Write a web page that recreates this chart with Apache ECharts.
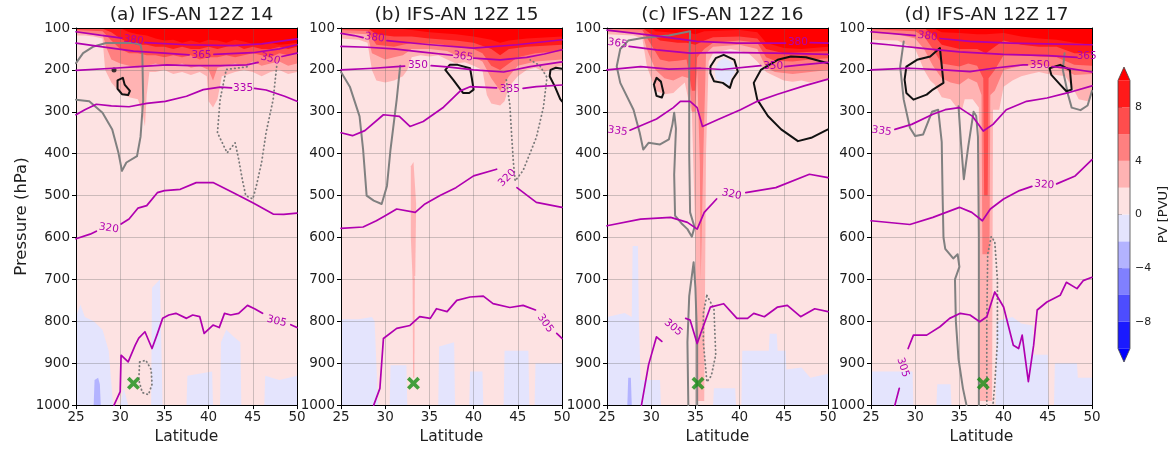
<!DOCTYPE html>
<html><head><meta charset="utf-8">
<script src="https://cdn.jsdelivr.net/npm/echarts@6/dist/echarts.min.js"></script>
<style>html,body{margin:0;padding:0;background:#fff}#c{width:1171px;height:450px}</style>
</head><body><div id="c"></div>
<script>
// ---------- general ----------
const panelTitles = ['(a) IFS-AN 12Z 14','(b) IFS-AN 12Z 15','(c) IFS-AN 12Z 16','(d) IFS-AN 12Z 17'];
const pvLevels = [-10,-8,-6,-4,-2,0,2,4,6,8,10];
const pvColors = ['#1a1aff','#4d4dff','#8080ff','#b3b3ff','#e4e4fd','#fde2e2','#ffb3b3','#ff8080','#ff4d4d','#ff1a1a'];
const pvUnder = '#0000ff', pvOver = '#ff0000';
const cbTicks = [-8,-4,0,4,8];

// ---------- panel (a) ----------
const a_pv2 = [[25,118],[26,118],[27,120],[28,125],[28.3,200],[29,230],[30,255],[31,265],[32,270],[32.5,300],[32.8,335],[33,260],[33.3,205],[34,205],[35,200],[36,210],[37,205],[38,212],[39,205],[39.8,215],[40,275],[40.5,290],[41,270],[41.5,215],[42,212],[43,205],[44,200],[45,205],[46,215],[47,205],[48,200],[49,210],[50,205]];
const a_pv4 = [[25,112],[28,115],[28.5,150],[29,175],[30,185],[31,190],[32,195],[33,190],[34,185],[35,190],[36,190],[37,185],[38,195],[39,190],[40,200],[40.5,225],[41,195],[42,190],[43,185],[44,190],[45,180],[46,190],[47,185],[48,180],[49,190],[50,185]];
const a_pv6 = [[25,105],[28,108],[29,130],[30,150],[31,160],[32,160],[33,165],[34,165],[35,170],[36,165],[37,170],[38,165],[39,175],[40,170],[41,170],[42,165],[43,170],[44,165],[45,160],[46,165],[47,170],[48,160],[49,165],[50,160]];
const a_pv8 = [[25,100],[28,102],[29,110],[30,125],[31,135],[32,140],[33,140],[34,145],[35,145],[36,150],[37,145],[38,150],[39,150],[40,145],[41,150],[42,145],[43,140],[44,150],[45,145],[46,150],[47,150],[48,145],[49,150],[50,145]];
const a_pv10 = [[25,100],[30,100],[31,110],[32,115],[33,118],[34,125],[35,130],[36,128],[37,135],[38,130],[39,135],[40,128],[41,130],[42,135],[43,128],[44,132],[45,138],[46,140],[47,135],[48,140],[49,138],[50,135]];
const a_neg0 = [[25,1000],[25,790],[25.5,760],[26,790],[27,800],[28,820],[28.7,870],[29.2,1000],[30,1000],[30.4,960],[30.9,1000],[33.5,1000],[33.6,720],[34.5,700],[34.8,1000],[37.5,1000],[37.6,930],[40.4,920],[40.5,1000],[41.3,1000],[41.4,850],[42,820],[43,840],[43.6,850],[43.7,1000],[46.3,1000],[46.4,930],[48,940],[50,930]];
const a_neg2 = [[25,1000],[27,1000],[27.1,940],[27.5,935],[27.7,950],[27.8,1000],[50,1000]];
const a_th380 = [[[25,109],[27.7,117],[30.2,124]],[[32.8,135],[37.5,140],[42.8,142],[46,138],[50,126]]];
const a_th365 = [[[25,136],[28,145],[31.5,155],[35,160],[37.8,164]],[[40.6,163],[45,159],[48,150],[50,140]]];
const a_th350 = [[[25,201],[29.2,196],[32,192],[35.3,188],[38,190],[41.3,190],[44.3,188],[45.6,182]],[[48.3,168],[50,160]]];
const a_th335 = [[[25,307],[26,295],[27.3,282],[29,286],[31,288],[33,280],[35.1,275],[37.5,263],[39.4,247],[41.3,241],[42.6,243]],[[45.2,244],[46.5,248],[48.6,263],[50,275]]];
const a_th320 = [[[25,603],[26.6,592],[27.3,585]],[[30.1,568],[31,556],[32,530],[33,524],[34.2,493],[35,488],[36.8,485],[38.6,469],[40.5,469],[42.8,493],[45,517],[47.3,544],[48.5,545],[50,542]]];
const a_th305 = [[[29.3,1000],[30,968],[30.1,881],[30.9,897],[31.7,857],[32.1,840],[32.8,825],[33.6,865],[34.2,830],[34.8,793],[35.5,785],[36.3,781],[37.5,793],[38.2,785],[39,789],[39.5,829],[40.5,809],[41.2,815],[41.8,781],[42.5,785],[43.4,781],[44.4,762],[45.2,770],[46.1,781]],[[49.3,808],[50,815]]];
const a_labels = [[31.5,129,'380',-8],[39.2,164,'365',0],[47,174,'350',-14],[43.9,245,'335',0],[28.7,578,'320',-8],[47.7,800,'305',-14]];
const a_grey = [[[25,184],[25.8,160],[27,144],[28.4,136],[31.5,136],[32.3,140],[32.5,160],[32.6,271],[32.3,360],[31.9,406],[30.7,421],[30.2,441],[29.8,398],[29.1,342],[28,302],[26.5,275],[25,271]]];
const a_dotted = [[[47.7,192],[47.3,271],[46.5,350],[46,420],[45.4,477],[45,508],[44.2,500],[43.8,460],[43.4,413],[43,374],[42.1,398],[41,350],[41.3,271],[42,199],[43.5,195],[44.5,192]],
                  [[32.2,897],[32.9,893],[33.5,915],[33.6,950],[33.2,975],[32.5,970],[32.1,940],[32.2,897]]];
const a_black = [[[29.7,225],[30.3,219],[30.5,235],[31.1,250],[30.9,260],[30.2,258],[29.7,245],[29.7,225]]];
const a_dots = [[29.3,200]];
const a_marker = [[31.5,948]];

// ---------- panel (b) ----------
const b_pv2 = [[25,125],[27,128],[28,135],[28.5,200],[29,225],[30,230],[31,225],[32,215],[32.5,200],[33,170],[34,165],[35,168],[36,165],[37,175],[38,185],[39,182],[40,190],[41,200],[41.5,260],[42,280],[43,285],[43.5,275],[44,240],[45,215],[46,200],[47,195],[48,205],[49,195],[50,190]];
const b_pv4 = [[25,112],[28,115],[28.5,160],[30,175],[31,170],[32,165],[33,150],[35,150],[37,155],[38,165],[40,170],[41,180],[42,220],[43,250],[44,215],[45,190],[47,180],[50,175]];
const b_pv6 = [[25,105],[28,107],[29,140],[31,145],[32,140],[33,135],[36,138],[38,145],[40,150],[41,160],[42,190],[43,200],[44,185],[45,170],[47,160],[50,155]];
const b_pv8 = [[25,100],[28,100],[29,115],[31,120],[33,120],[35,125],[38,130],[40,135],[42,150],[43,165],[44,150],[46,145],[50,140]];
const b_pv10 = [[25,100],[31,100],[33,105],[35,110],[38,115],[40,120],[42,128],[43,135],[44,130],[46,125],[50,120]];
const b_streak = [[32.9,430],[33.2,420],[33.5,520],[33.4,690],[33.1,700],[32.9,600],[32.9,430]];
const b_streakLow = [[33.1,695],[33.35,695],[33.3,935],[33.15,935],[33.1,695]];
const b_neg0 = [[25,1000],[25,795],[27,795],[28.5,790],[28.8,800],[29.2,1000],[30.5,1000],[30.6,905],[32.4,905],[32.5,1000],[36,1000],[36.1,860],[37.8,850],[37.9,1000],[39.5,1000],[39.6,920],[41,920],[41.1,1000],[43.4,1000],[43.5,870],[46.2,870],[46.3,1000],[46.9,1000],[47,900],[50,900]];
const b_th380 = [[[25,113],[26.5,118],[27.5,123]],[[30.2,130],[35.1,140],[40,148],[44.9,140],[50,128]]];
const b_th365 = [[[25,144],[28,146],[31,150],[34,157],[37.6,165]],[[40,172],[43,176],[46,170],[48,162],[50,152]]];
const b_th350 = [[[25,200],[28.7,196],[31.3,192],[32.2,191]],[[35.2,190],[37,193],[40,200],[43.4,205],[46.4,192],[50,181]]];
const b_th335 = [[[25,350],[26.3,357],[27.7,345],[29.8,307],[31.6,311],[32.8,335],[34.3,323],[36.6,289],[38.5,250],[39.6,240],[42.6,243]],[[45.6,244],[47.1,240],[50,236]]];
const b_th320 = [[[25,578],[27.5,575],[29,560],[30,548],[31.3,532],[33.4,540],[34.5,520],[36.2,500],[38,481],[40,453],[42.6,437]],[[44.9,481],[47.1,516],[50,528]]];
const b_th305 = [[[28.7,1000],[29.4,960],[29.8,841],[31.3,817],[32.8,810],[33.9,789],[35.1,793],[35.8,770],[37,777],[38.1,750],[39.6,742],[41.1,740],[42.2,758],[44.1,767],[45.6,762],[47,773]],[[49.4,829],[50,841]]];
const b_labels = [[28.8,123,'380',-8],[38.8,168,'365',-8],[33.7,189,'350',0],[44.1,247,'335',0],[43.8,458,'320',45],[48.1,805,'305',-55]];
const b_grey = [[[25,205],[26,240],[27.1,311],[27.5,390],[27.9,500],[28.7,512],[29.6,520],[30.2,477],[30.6,390],[31.3,271],[31.7,190]]];
const b_dotted = [[[43.7,224],[44.1,283],[44.3,354],[44.5,420],[44.7,465],[45.6,440],[47.1,361],[47.9,289],[48.3,218],[47.5,190],[46.4,176]]];
const b_black = [[[36.8,200],[37.3,188],[38.2,188],[39.6,196],[39.8,220],[40,247],[39.5,255],[38.8,255],[37.7,224],[36.8,200]],
                 [[50,197],[49.3,195],[48.7,200],[48.6,215],[49.2,240],[49.8,270],[50,275]]];
const b_marker = [[33.2,948]];

// ---------- panel (c) ----------
const c_pv2 = [[25,115],[28,118],[29,125],[29.5,190],[30.5,250],[31.5,258],[32.5,255],[33,245],[33.8,230],[34.3,280],[34.6,300],[35,600],[35.1,990],[36,990],[36.2,400],[36.5,180],[37,160],[38,155],[39,150],[40,155],[41,160],[42,180],[43,205],[44,215],[45,225],[46,228],[47,225],[48,230],[49,225],[50,225]];
const c_pv4 = [[25,108],[29,112],[29.5,150],[30.5,200],[31.5,220],[32.5,225],[33.5,215],[34.3,220],[34.6,300],[35,300],[35.2,200],[35.5,420],[35.6,700],[35.8,700],[35.9,400],[36.2,160],[37,145],[40,140],[42,150],[43,195],[44,205],[46,210],[48,205],[50,200]];
const c_pv6 = [[25,102],[29,105],[30,140],[31,175],[32,180],[33,178],[34,175],[34.6,250],[35,250],[35.2,170],[36,150],[37,135],[40,130],[42,135],[43,170],[44,178],[46,180],[48,175],[50,172]];
const c_pv8 = [[25,100],[29,100],[30,115],[31,130],[33,135],[34,135],[35,140],[36,130],[37,122],[40,120],[42,125],[43,150],[45,160],[47,158],[50,155]];
const c_pv10 = [[25,100],[30,100],[30.5,108],[33,112],[34,110],[35,115],[36,108],[40,105],[42,110],[43,135],[45,148],[47,150],[50,145]];
const c_blueLoop = [[37.2,200],[37.6,180],[38.3,172],[39.2,182],[39.5,205],[39,222],[38.8,238],[38.2,228],[37.3,222],[37.2,200]];
const c_neg0 = [[25,1000],[25,790],[27,780],[27.8,790],[27.9,620],[28.5,620],[28.6,790],[28.8,940],[31,940],[31.1,1000],[37,1000],[37.1,960],[39.5,960],[39.6,1000],[40.2,1000],[40.3,870],[43.3,870],[43.4,830],[44.2,830],[44.3,870],[45.2,870],[45.3,915],[47,910],[48,935],[50,925]];
const c_neg2 = [[25,1000],[27.3,1000],[27.4,935],[27.7,935],[27.8,1000],[50,1000]];
const c_th380 = [[[25,105],[29.9,117],[35.2,132],[39.7,136],[45.2,136]],[[48,135],[50,136]]];
const c_th365 = [[[27.5,144],[30.6,152],[34.4,160],[38.2,158],[44,160],[50,163]]];
const c_th350 = [[[25,200],[28.8,192],[32,198],[35.6,196],[38,199],[42.4,190]],[[45.1,192],[47,188],[50,182]]];
const c_th335 = [[[27.6,344],[30.6,317],[32.5,290],[33.3,275],[34.4,275],[35.2,290],[35.8,335],[37.5,319],[40.1,295],[42,275],[44.3,258],[47.3,238],[50,222]]];
const c_th320 = [[[25,572],[28.8,556],[32.2,552],[34.1,564],[35.2,580],[36,540],[37.4,508]],[[40.7,493],[44.1,481],[47.9,449],[50,457]]];
const c_th305 = [[[28.9,1000],[29.7,904],[30.6,837],[31.2,848]],[[33.9,793],[34.4,797],[35.2,853],[35.8,817],[36.7,766],[38.2,758],[39.7,793],[40.9,793],[41.6,781],[42.8,789],[44.3,766],[45.4,762],[46.9,789],[48.5,770],[50,777]]];
const c_labels = [[46.6,134,'380',0],[26.2,137,'365',-8],[43.8,192,'350',0],[26.2,346,'335',-8],[39.1,497,'320',-12],[32.5,815,'305',-40]];
const c_grey = [[[34.4,108],[32,118],[29,124],[27.4,130],[26.5,150],[26.1,192],[26.5,231],[28,295],[28.7,350],[29.1,390],[29.7,374],[31,378],[32,366],[32.4,330],[32.6,302],[32.8,340],[32.6,450],[32.7,548],[33.5,568],[34.1,580],[34.6,598],[34.9,575],[34.4,540],[34.3,400],[34.3,200],[34.4,108]],
                [[34.2,1000],[34.1,850],[34.3,740],[34.8,659],[35,720],[35.2,850],[35.2,1000]]];
const c_dotted = [[[36.3,738],[37.1,770],[37.3,880],[36.8,930],[36.3,945],[35.9,850],[35.9,780],[36.3,738]]];
const c_black = [[[30.3,235],[30.6,219],[31.1,228],[31.4,255],[31.2,266],[30.6,262],[30.3,235]],
                 [[36.7,192],[37.3,172],[38.2,164],[39.4,176],[39.8,204],[39.2,223],[38.9,243],[38.1,231],[37.1,227],[36.7,208],[36.7,192]],
                 [[50,184],[47.5,170],[45.8,168],[44.3,176],[42.4,200],[41.6,231],[42,271],[43.2,310],[44.7,342],[46.6,370],[48.1,362],[49.6,346],[50,342]]];
const c_marker = [[35.3,948]];

// ---------- panel (d) ----------
const d_pv2 = [[25,128],[28,130],[29,140],[30,150],[31,200],[31.7,225],[32.2,235],[33,265],[34,270],[34.7,290],[35.3,295],[35.6,270],[36.5,270],[37.2,290],[37.3,990],[38.7,990],[38.8,295],[39.5,295],[40,240],[41,225],[42,215],[43,210],[44,205],[45,210],[46,212],[47,215],[48,250],[48.5,270],[49.5,275],[50,260]];
const d_pv4 = [[25,112],[28,115],[30,125],[31,150],[32,190],[33,220],[34,230],[35,235],[36,220],[37,230],[37.5,260],[37.6,640],[38.4,640],[38.5,260],[39,250],[40,200],[42,190],[44,188],[46,195],[47,200],[48,212],[50,210]];
const d_pv6 = [[25,103],[30,108],[31,120],[32,150],[33,185],[35,192],[36,185],[37,190],[37.7,220],[37.8,500],[38.2,500],[38.3,220],[39,200],[40,165],[42,165],[44,168],[46,170],[48,188],[50,190]];
const d_pv8 = [[25,100],[31,100],[32,115],[33,140],[35,150],[37,150],[38,160],[39,145],[40,130],[42,140],[44,145],[46,145],[48,160],[50,160]];
const d_pv10 = [[25,100],[32,100],[33,110],[35,112],[37,115],[38,115],[40,112],[42,120],[44,125],[46,128],[48,135],[50,140]];
const d_neg0 = [[25,1000],[25,920],[29.7,920],[29.8,1000],[32.4,1000],[32.5,950],[34,950],[34.1,1000],[39.1,1000],[39.2,800],[41,790],[42,805],[43.3,810],[43.4,880],[45,880],[45.1,1000],[45.7,1000],[45.8,900],[48.3,900],[48.4,935],[50,935]];
const d_th380 = [[[25,109],[29.4,117],[30,118]],[[32.8,125],[36.2,132],[40.7,136],[44.9,138],[50,140]]];
const d_th365 = [[[25,136],[27,140],[31.4,150],[35,157],[40,163],[45,166],[48.3,170]]];
const d_th350 = [[[25,200],[29.4,196],[33.2,200],[36.2,204],[38.8,196],[42.2,188],[42.7,188]],[[45.5,192],[47,195],[50,205]]];
const d_th335 = [[[27.7,342],[29.6,330],[32,306],[33.4,295],[35,290],[36.5,311],[37.7,346],[38.8,330],[40.3,295],[42.6,275],[44.9,267],[47.2,255],[50,238]]];
const d_th320 = [[[25,560],[29.4,569],[32,552],[35,528],[36.4,540],[37.6,560],[38.5,532],[40,508],[41.8,488],[43.2,478]],[[46,472],[48.1,453],[50,414]]];
const d_th305 = [[[27.7,1000],[28.2,960]],[[29.2,865],[29.8,833],[31.3,833],[32.8,813],[33.9,793],[35.1,781],[36.2,785],[37.3,801],[38.1,789],[39,730],[40,766],[41.1,857],[41.7,865],[42.1,833],[42.8,944],[43.4,857],[43.8,773],[44.9,754],[46.4,738],[47.1,707],[48.3,722],[49,703],[50,695]]];
const d_labels = [[31.4,120,'380',-8],[49.4,168,'365',0],[44.1,190,'350',0],[26.2,346,'335',-8],[44.6,474,'320',-5],[28.6,910,'305',-72]];
const d_grey = [[[28.7,132],[28.3,192],[28.7,271],[29.4,338],[30,358],[30.9,354],[31.9,300],[32.6,295],[33,372],[33.1,500],[33.2,600],[33.4,627],[34.3,650],[34.8,640],[35,670],[34.5,700],[34.6,800],[34.9,890],[35.4,960],[35.8,1000]],
                [[34.9,287],[35.2,380],[35.5,461],[36,383],[36.6,300],[36.9,310],[37.1,360],[37.2,600],[37.2,1000]],
                [[46.9,160],[46.7,200],[47.3,260],[47.7,290],[48.7,296],[49.5,285],[50,250]]];
const d_dotted = [[[38.1,1000],[38.1,800],[38.2,640],[38.6,598],[39,610],[39.3,700],[39.3,850],[39,950],[38.8,1000]]];
const d_black = [[[29,192],[30.2,176],[31.7,168],[32.8,148],[33.2,231],[32,247],[31.3,259],[29.8,271],[29,255],[28.8,223],[29,192]],
                 [[45.2,196],[46.4,188],[47.5,200],[47.7,247],[47.1,251],[46.4,235],[45.4,212],[45.2,196]]];
const d_marker = [[37.7,948]];

// ---------- assemble ----------
const panels = [
  {pv:[a_pv2,a_pv4,a_pv6,a_pv8,a_pv10], neg:[a_neg0,a_neg2], blobs:[], th:[a_th380,a_th365,a_th350,a_th335,a_th320,a_th305], labels:a_labels, grey:a_grey, dotted:a_dotted, black:a_black, dots:a_dots, marker:a_marker},
  {pv:[b_pv2,b_pv4,b_pv6,b_pv8,b_pv10], neg:[b_neg0], blobs:[{pts:b_streak,c:6},{pts:b_streakLow,c:6}], th:[b_th380,b_th365,b_th350,b_th335,b_th320,b_th305], labels:b_labels, grey:b_grey, dotted:b_dotted, black:b_black, dots:[], marker:b_marker},
  {pv:[c_pv2,c_pv4,c_pv6,c_pv8,c_pv10], neg:[c_neg0,c_neg2], blobs:[{pts:c_blueLoop,c:4}], th:[c_th380,c_th365,c_th350,c_th335,c_th320,c_th305], labels:c_labels, grey:c_grey, dotted:c_dotted, black:c_black, dots:[], marker:c_marker},
  {pv:[d_pv2,d_pv4,d_pv6,d_pv8,d_pv10], neg:[d_neg0], blobs:[], th:[d_th380,d_th365,d_th350,d_th335,d_th320,d_th305], labels:d_labels, grey:d_grey, dotted:d_dotted, black:d_black, dots:[], marker:d_marker}
];

const FONT = 'DejaVu Sans';
const TXT = '#1e1e1e';
const PURPLE = '#b000b0';
const gridLefts = [76, 341, 607, 871];
const GT = 28, GW = 221, GH = 379;

const grids = [], xAxes = [], yAxes = [], series = [], titles = [];
const pvFillColors = [pvColors[6], pvColors[7], pvColors[8], pvColors[9], pvOver];
const negFillColors = [pvColors[4], pvColors[3]];
const XPATH = 'path://M2,0 L5,3 L8,0 L10,2 L7,5 L10,8 L8,10 L5,7 L2,10 L0,8 L3,5 L0,2 Z';

function line(i, pts, color, width, type, z) {
  return {type:'line', xAxisIndex:2*i, yAxisIndex:2*i, data:pts, symbol:'none', silent:true, animation:false, z:z,
    lineStyle:{color:color, width:width, type:type||'solid', cap:'round', join:'round'}};
}
function area(i, pts, color, origin, z) {
  return {type:'line', xAxisIndex:2*i, yAxisIndex:2*i, data:pts, symbol:'none', silent:true, animation:false, z:z,
    lineStyle:{width:0, opacity:0}, areaStyle:{color:color, opacity:1, origin:origin}};
}

panels.forEach((P, i) => {
  const L = gridLefts[i];
  grids.push({left:L, top:GT, width:GW, height:GH, show:true, backgroundColor:pvColors[5], borderWidth:0});
  titles.push({text:panelTitles[i], left:L + GW/2, top:1, textAlign:'center',
    textStyle:{fontFamily:FONT, fontSize:18.5, fontWeight:'normal', color:TXT}});
  xAxes.push({type:'value', gridIndex:i, min:25, max:50, interval:5, position:'bottom', z:5,
    axisLine:{show:true, onZero:false, lineStyle:{color:'#000', width:1}},
    axisTick:{show:true, length:4, lineStyle:{color:'#000'}},
    axisLabel:{fontFamily:FONT, fontSize:13.5, color:TXT, margin:5},
    splitLine:{show:true, lineStyle:{color:'rgba(100,100,100,0.4)', width:0.8}},
    name:'Latitude', nameLocation:'middle', nameGap:22, nameTextStyle:{fontFamily:FONT, fontSize:15.5, color:TXT}});
  xAxes.push({type:'value', gridIndex:i, min:25, max:50, position:'top', z:6,
    axisLine:{show:true, onZero:false, lineStyle:{color:'#000', width:1}},
    axisTick:{show:false}, axisLabel:{show:false}, splitLine:{show:false}});
  yAxes.push({type:'value', gridIndex:i, min:100, max:1000, interval:100, inverse:true, position:'left', z:5,
    axisLine:{show:true, onZero:false, lineStyle:{color:'#000', width:1}},
    axisTick:{show:true, length:4, lineStyle:{color:'#000'}},
    axisLabel:{fontFamily:FONT, fontSize:13.5, color:TXT, margin:6, formatter: v => String(v)},
    splitLine:{show:true, lineStyle:{color:'rgba(100,100,100,0.4)', width:0.8}},
    name: i === 0 ? 'Pressure (hPa)' : '', nameLocation:'middle', nameGap:46, nameRotate:90,
    nameTextStyle:{fontFamily:FONT, fontSize:16.5, color:TXT}});
  yAxes.push({type:'value', gridIndex:i, min:100, max:1000, inverse:true, position:'right', z:6,
    axisLine:{show:true, onZero:false, lineStyle:{color:'#000', width:1}},
    axisTick:{show:false}, axisLabel:{show:false}, splitLine:{show:false}});

  // filled PV (upper bands from top, negative from bottom)
  P.pv.forEach((pts, k) => series.push(area(i, pts, pvFillColors[k], 'start', 1)));
  P.neg.forEach((pts, k) => series.push(area(i, pts, negFillColors[k], 'end', 1)));
  if (P.blobs.length) {
    const blobs = P.blobs;
    series.push({type:'custom', xAxisIndex:2*i, yAxisIndex:2*i, z:1, silent:true, animation:false,
      data: blobs.map(b => [b.pts[0][0], b.pts[0][1]]),
      renderItem: (params, api) => {
        const b = blobs[params.dataIndex];
        return {type:'polygon', shape:{points:b.pts.map(q => api.coord(q))}, style:{fill:pvColors[b.c]}};
      }});
  }
  // isentropes
  P.th.forEach(segs => segs.forEach(seg => series.push(line(i, seg, PURPLE, 1.7, 'solid', 8))));
  const labs = P.labels;
  series.push({type:'custom', xAxisIndex:2*i, yAxisIndex:2*i, z:9, silent:true, animation:false,
    data: labs.map(d => [d[0], d[1]]),
    renderItem: (params, api) => {
      const d = labs[params.dataIndex];
      const pt = api.coord([d[0], d[1]]);
      return {type:'text', x:pt[0], y:pt[1], rotation:d[3]*Math.PI/180,
        style:{text:d[2], fill:PURPLE, font:'10.5px "DejaVu Sans"', align:'center', verticalAlign:'middle'}};
    }});
  P.grey.forEach(seg => series.push(line(i, seg, '#808080', 2, 'solid', 7)));
  P.dotted.forEach(seg => series.push(line(i, seg, '#7a7a7a', 1.8, [0.5, 3.5], 7)));
  P.black.forEach(seg => series.push(line(i, seg, '#111', 2, 'solid', 7)));
  if (P.dots.length) series.push({type:'scatter', xAxisIndex:2*i, yAxisIndex:2*i, data:P.dots, symbol:'circle', symbolSize:5, itemStyle:{color:'#111'}, silent:true, z:7});
  series.push({type:'scatter', xAxisIndex:2*i, yAxisIndex:2*i, data:P.marker, symbol:XPATH, symbolSize:13, itemStyle:{color:'#148f14'}, silent:true, z:10, animation:false});
});

// ---------- colour bar ----------
grids.push({left:1118, top:67, width:15, height:295, show:false});
xAxes.push({type:'value', gridIndex:4, min:0, max:1, show:false});
yAxes.push({type:'value', gridIndex:4, min:-11, max:11, position:'right',
  axisLine:{show:false}, splitLine:{show:false},
  axisTick:{show:true, customValues:cbTicks, length:4, lineStyle:{color:'#333'}},
  axisLabel:{show:true, customValues:cbTicks, fontFamily:FONT, fontSize:11, color:TXT, margin:5,
    formatter: v => v < 0 ? '\u2212' + Math.abs(v) : String(v)},
  name:'PV [PVU]', nameLocation:'middle', nameGap:27, nameRotate:90,
  nameTextStyle:{fontFamily:FONT, fontSize:13, color:TXT}});
const cbItems = [];
for (let k = 0; k < pvLevels.length - 1; k++) cbItems.push([0.5, pvLevels[k], pvLevels[k+1], k]);
cbItems.push([0.5, 10, 11, 'over']);
cbItems.push([0.5, -10, -11, 'under']);
cbItems.push([0.5, -11, 11, 'outline']);
series.push({type:'custom', xAxisIndex:8, yAxisIndex:8, silent:true, animation:false, z:3,
  data: cbItems, encode:{x:0, y:[1,2]},
  renderItem: (params, api) => {
    const it = cbItems[params.dataIndex];
    const lo = it[1], hi = it[2];
    if (it[3] === 'over' || it[3] === 'under') {
      const c = pvLevels[it[3] === 'over' ? pvLevels.length - 1 : 0];
      const tip = it[2];
      return {type:'polygon', shape:{points:[api.coord([0, c]), api.coord([1, c]), api.coord([0.5, tip])]},
        style:{fill: it[3] === 'over' ? pvOver : pvUnder}};
    }
    if (it[3] === 'outline') {
      const pts = [api.coord([0.5, 11]), api.coord([1, 10]), api.coord([1, -10]), api.coord([0.5, -11]), api.coord([0, -10]), api.coord([0, 10])];
      return {type:'polygon', shape:{points:pts}, style:{fill:'none', stroke:'#444', lineWidth:0.8}};
    }
    const p0 = api.coord([0, lo]), p1 = api.coord([1, hi]);
    return {type:'rect', shape:{x:p0[0], y:p1[1], width:p1[0]-p0[0], height:p0[1]-p1[1]}, style:{fill:pvColors[it[3]]}};
  }});

const chart = echarts.init(document.getElementById('c'), null, {renderer:'canvas'});
chart.setOption({animation:false, backgroundColor:'#fff', title:titles, grid:grids, xAxis:xAxes, yAxis:yAxes, series:series});
</script></body></html>
